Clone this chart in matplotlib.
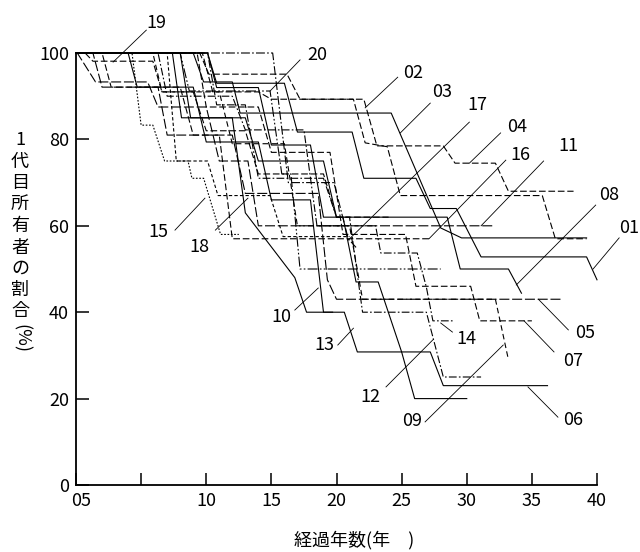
import matplotlib
matplotlib.use("Agg")
import matplotlib.pyplot as plt
import matplotlib.transforms as mtransforms

plt.rcParams['font.family'] = ['Noto Sans CJK JP', 'DejaVu Sans']

# ---- data (years elapsed, % of first owners) ----
c01_x = [0, 10.1, 10.8, 16, 17, 21.2, 22.1, 26.1, 27.2, 29.2, 31.1, 39.2, 40]
c01_y = [100, 100, 93, 93, 81.7, 81.7, 71, 71, 64, 64, 52.8, 52.8, 47.5]
c02_x = [0, 9.5, 10.2, 16.2, 17.2, 21.3, 22.2, 23.9, 24.9, 35.8, 36.8, 39.2]
c02_y = [100, 100, 95.1, 95.1, 89.3, 89.3, 79.2, 78.3, 67, 67, 57, 57]
c03_x = [0, 9, 9.8, 12, 12.6, 24.2, 28, 29.6, 39.2]
c03_y = [100, 100, 93.3, 93.3, 86.1, 86.1, 59.5, 57.2, 57.2]
c04_x = [0, 9.7, 10.5, 14, 15, 22.1, 23.1, 28.2, 29.1, 32.2, 33.2, 38.2]
c04_y = [100, 100, 91, 91, 89.3, 89.3, 78.5, 78.5, 74.5, 74.5, 68, 68]
c05_x = [0, 1.3, 2.0, 6.3, 7.0, 12, 13, 18.6, 19.3, 20.0, 37.2]
c05_y = [100, 100, 92.1, 92.1, 81, 81, 67.5, 67.5, 47.5, 43, 43]
c06_x = [0, 10.1, 10.8, 14, 15, 18, 19, 20.5, 21.5, 23.2, 25, 27.2, 28.2, 36.2]
c06_y = [100, 100, 92, 92, 78.7, 78.7, 62, 62, 47, 47, 30.8, 30.8, 23, 23]
c07_x = [0, 9.3, 10, 14, 15, 19.5, 20.5, 25.3, 26.1, 30.3, 31, 35]
c07_y = [100, 100, 87.5, 87.5, 77, 77, 58, 58, 46, 46, 38, 38]
c08_x = [0, 8, 8.8, 13, 14, 19, 20, 28.5, 29.5, 33.2, 34.2]
c08_y = [100, 100, 85, 85, 75, 75, 62, 62, 50, 50, 44.4]
c09_x = [0, 5.9, 6.6, 11, 12, 16, 17, 21, 22, 32.2, 33.2]
c09_y = [100, 100, 91, 91, 79, 79, 60, 60, 43, 43, 29]
c10_x = [0, 7.4, 8.1, 12, 13, 16.8, 17.7, 19.7]
c10_y = [100, 100, 85, 85, 63, 48, 40, 40]
c11_x = [0, 0.1, 1.5, 5.5, 6.3, 10, 11, 13.2, 14, 32]
c11_y = [100, 100, 93.3, 93.3, 87.5, 87.5, 75, 75, 60, 60]
c12_x = [0, 10.1, 10.8, 13, 14, 19, 20, 21, 22, 26.9, 28.2, 31.1]
c12_y = [100, 100, 88, 88, 71, 71, 62, 62, 40, 40, 25, 25]
c13_x = [0, 4, 4.7, 9, 10, 14, 15, 18, 19, 20.6, 21.6, 25, 26, 30]
c13_y = [100, 100, 92.1, 92.1, 79.4, 79.4, 66, 66, 40, 40, 30.8, 30.8, 20, 20]
c14_x = [0, 6.3, 7, 12, 13, 17.5, 18.5, 23, 23.4, 26.2, 26.9, 27.4, 29]
c14_y = [100, 100, 90, 90, 82.2, 82.2, 60, 60, 53.7, 53.7, 45.8, 38, 38]
c15_x = [0, 4.3, 5, 5.9, 6.8, 8.6, 8.9, 9.8, 11.1, 12.5]
c15_y = [100, 100, 83.3, 83.3, 75, 75, 71, 71, 58, 58]
c16_x = [0, 2, 2.7, 8, 9, 11, 12, 27.1]
c16_y = [100, 100, 92.1, 92.1, 81, 81, 57, 57]
c17_x = [0, 15.1, 16.3, 19.8, 20.9, 21.5]
c17_y = [100, 100, 70, 70, 57, 55]
c18_x = [0, 7, 7.7, 10.1, 10.9, 14.9, 15.9, 21]
c18_y = [100, 100, 75, 75, 67, 67, 57.5, 57.5]
c19_x = [0, 0.7, 1.3, 5.9, 6.6, 9, 10, 13, 14, 19, 20, 24]
c19_y = [100, 100, 98.1, 98.1, 91, 91, 82, 82, 72, 72, 62, 62]
c20_x = [0, 8, 8.7, 14.9, 15.8, 16.5, 17.2, 28]
c20_y = [100, 100, 91.2, 91.2, 72, 72, 50, 50]

series_names = ['01', '02', '03', '04', '05', '06', '07', '08', '09', '10',
                '11', '12', '13', '14', '15', '16', '17', '18', '19', '20']
series_x = [c01_x, c02_x, c03_x, c04_x, c05_x, c06_x, c07_x, c08_x, c09_x, c10_x,
            c11_x, c12_x, c13_x, c14_x, c15_x, c16_x, c17_x, c18_x, c19_x, c20_x]
series_y = [c01_y, c02_y, c03_y, c04_y, c05_y, c06_y, c07_y, c08_y, c09_y, c10_y,
            c11_y, c12_y, c13_y, c14_y, c15_y, c16_y, c17_y, c18_y, c19_y, c20_y]

x_ticks = [0, 5, 10, 15, 20, 25, 30, 35, 40]
x_ticklabels = ['05', '', '10', '15', '20', '25', '30', '35', '40']
y_ticks = [0, 20, 40, 60, 80, 100]
y_ticklabels = ['0', '20', '40', '60', '80', '100']

# label text position and leader line (data coords)
label_text = {'19': (6.2, 107.0), '20': (18.5, 99.5), '02': (25.9, 95.4), '03': (28.1, 90.9),
              '17': (30.8, 88.0), '04': (33.9, 82.9), '16': (34.1, 76.4), '11': (37.8, 78.5),
              '08': (40.9, 67.1), '01': (42.5, 59.5), '05': (39.1, 35.2), '07': (38.2, 28.7),
              '14': (30.0, 33.8), '10': (15.8, 38.9), '13': (19.1, 32.4), '12': (22.6, 20.4),
              '09': (25.8, 14.8), '06': (38.2, 15.0), '15': (6.3, 58.6), '18': (9.5, 55.1)}
leader_from = {'19': (5.4, 105.3), '20': (17.2, 98.4), '02': (24.7, 94.4), '03': (27.2, 88.4),
               '17': (30.2, 84.0), '04': (32.6, 81.5), '16': (33.0, 75.2), '11': (35.9, 75.0),
               '08': (39.9, 64.8), '01': (41.7, 57.2), '05': (37.8, 35.9), '07': (36.7, 30.8),
               '14': (28.9, 35.4), '10': (16.8, 40.5), '13': (20.1, 32.4), '12': (23.8, 22.7),
               '09': (26.8, 14.6), '06': (37.0, 15.7), '15': (7.6, 59.0), '18': (10.7, 59.0)}
leader_to = {'19': (2.85, 97.9), '20': (14.9, 91.2), '02': (22.2, 87.3), '03': (24.9, 81.5),
             '17': (20.9, 56.7), '04': (30.2, 74.5), '16': (27.1, 57.0), '11': (31.1, 60.0),
             '08': (33.8, 46.3), '01': (39.7, 50.0), '05': (35.5, 43.0), '07': (34.4, 38.0),
             '14': (28.0, 37.5), '10': (18.6, 45.6), '13': (21.3, 36.3), '12': (27.4, 33.6),
             '09': (32.8, 32.4), '06': (34.7, 22.7), '15': (9.9, 66.4), '18': (13.2, 66.4)}

styles = {'01': '-', '02': (0, (6, 2.5)), '03': '-', '04': (0, (6, 2.5)), '05': (0, (9, 2.5)),
          '06': '-', '07': (0, (6, 2.5)), '08': '-', '09': (0, (5, 3)), '10': '-',
          '11': (0, (9, 2.5)), '12': (0, (7, 2, 1.5, 2)), '13': '-', '14': (0, (7, 2, 1.5, 2)),
          '15': (0, (1.5, 1.5)), '16': (0, (6, 2.5)), '17': (0, (8, 2, 1.5, 2)),
          '18': (0, (3, 2)), '19': (0, (6, 2.5)), '20': (0, (9, 2, 1.5, 2, 1.5, 2))}

W, H = 640, 552
fig = plt.figure(figsize=(W / 100, H / 100), dpi=100)
ax = fig.add_axes([76 / W, 1 - 485 / H, (597 - 76) / W, (485 - 53) / H])

for name, xs, ys in zip(series_names, series_x, series_y):
    ax.plot(xs, ys, color='black', lw=0.8, linestyle=styles[name], clip_on=False)

for name in series_names:
    (x0, y0), (x1, y1) = leader_from[name], leader_to[name]
    ax.plot([x0, x1], [y0, y1], color='black', lw=0.6, clip_on=False)
    tx, ty = label_text[name]
    ax.text(tx, ty, name, fontsize=13, ha='center', va='center', clip_on=False)

ax.set_xlim(0, 40)
ax.set_ylim(0, 100)
ax.set_xticks(x_ticks)
ax.set_xticklabels(x_ticklabels)
ax.set_yticks(y_ticks)
ax.set_yticklabels(y_ticklabels)
for s in ['top', 'right']:
    ax.spines[s].set_visible(False)
for s in ['left', 'bottom']:
    ax.spines[s].set_linewidth(1.3)
ax.tick_params(direction='in', length=9, width=1.1, labelsize=13, pad=5)

# shift the "05" label slightly to the right, like the reference
lbl0 = ax.get_xticklabels()[0]
lbl0.set_transform(lbl0.get_transform() + mtransforms.ScaledTranslation(5 / 100, 0, fig.dpi_scale_trans))

# vertical y label
ychars = ['1', '代', '目', '所', '有', '者', 'の', '割', '合']
ypos = [140, 162, 183, 204, 226, 248, 269, 290, 311]
for ch, py in zip(ychars, ypos):
    fig.text(20 / W, 1 - py / H, ch, fontsize=13, ha='center', va='center')
fig.text(21 / W, 1 - 338 / H, '(%)', fontsize=13, ha='center', va='center', rotation=-90)

fig.text(354 / W, 1 - 540 / H, '経過年数(年\u3000)', fontsize=13, ha='center', va='center')

fig.savefig('out.png', dpi=100)
